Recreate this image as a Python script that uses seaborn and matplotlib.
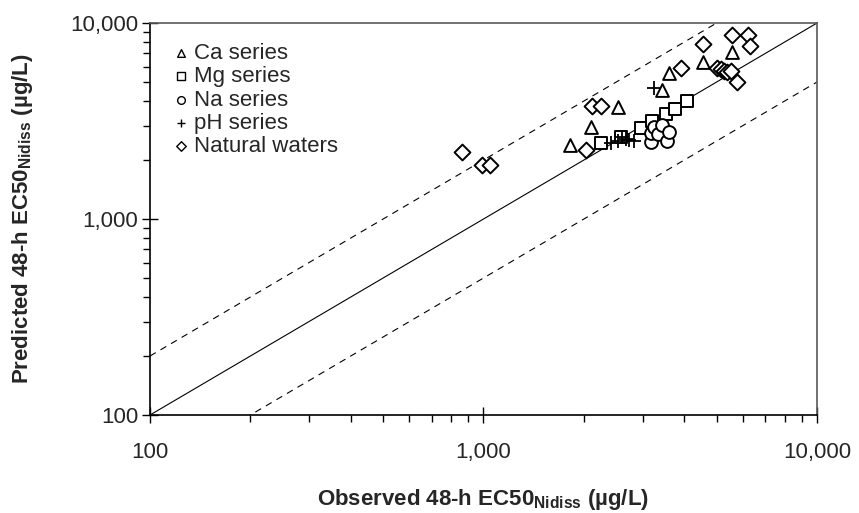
import numpy as np
import pandas as pd
import matplotlib
matplotlib.use('Agg')
import matplotlib.pyplot as plt
import seaborn as sns
from matplotlib.ticker import FuncFormatter, LogLocator, NullFormatter

# Observed vs predicted EC50 values (ug/L)
ca_obs = [1820, 2100, 2530, 3440, 3590, 4540, 5560]
ca_pred = [2390, 2950, 3730, 4550, 5550, 6350, 7140]

mg_obs = [2250, 2580, 2960, 3210, 3520, 3760, 4090]
mg_pred = [2430, 2630, 2900, 3160, 3430, 3640, 4020]

na_obs = [3170, 3180, 3250, 3330, 3420, 3540, 3590]
na_pred = [2470, 2750, 2950, 2720, 3020, 2490, 2790]

ph_obs = [2410, 2540, 2610, 2670, 2730, 2820, 3240]
ph_pred = [2440, 2510, 2620, 2570, 2540, 2510, 4660]

nat_obs = [862, 993, 1046, 2030, 2120, 2250, 3900, 4540, 5030, 5150,
           5270, 5390, 5540, 5750, 5580, 6220, 6290]
nat_pred = [2200, 1890, 1890, 2240, 3770, 3770, 5870, 7820, 5870, 5830,
            5720, 5640, 5710, 5020, 8690, 8690, 7630]

series = [
    ('Ca series', ca_obs, ca_pred, '^'),
    ('Mg series', mg_obs, mg_pred, 's'),
    ('Na series', na_obs, na_pred, 'o'),
    ('pH series', ph_obs, ph_pred, '+'),
    ('Natural waters', nat_obs, nat_pred, 'D'),
]

line_x = np.array([100, 10000])
factors = [1, 2, 0.5]

sns.set_style('ticks')
plt.rcParams['font.family'] = ['Liberation Sans', 'DejaVu Sans']
plt.rcParams['mathtext.fontset'] = 'custom'
plt.rcParams['mathtext.rm'] = 'Liberation Sans'
plt.rcParams['mathtext.bf'] = 'Liberation Sans:bold'

fig, ax = plt.subplots(figsize=(8.59, 5.13), dpi=100)
fig.subplots_adjust(left=0.1746, right=0.951, bottom=0.191, top=0.955)

# 1:1 line and factor-of-two lines
ax.plot(line_x, line_x * factors[0], color='black', lw=0.8, zorder=1)
ax.plot(line_x, line_x * factors[1], color='black', lw=0.8, ls=(0, (6, 5)), zorder=1)
ax.plot(line_x, line_x * factors[2], color='black', lw=0.8, ls=(0, (6, 5)), zorder=1)

for name, xs, ys, mk in series:
    df = pd.DataFrame({'obs': xs, 'pred': ys})
    if mk == '+':
        sns.scatterplot(data=df, x='obs', y='pred', marker=mk, s=100, color='black',
                        linewidth=1.3, label=name, ax=ax, zorder=3)
    else:
        size = 65 if mk == 'D' else 85
        sns.scatterplot(data=df, x='obs', y='pred', marker=mk, s=size, facecolor='white',
                        edgecolor='black', linewidth=1.4, label=name, ax=ax, zorder=3)

ax.set_xscale('log')
ax.set_yscale('log')
ax.set_xlim(100, 10000)
ax.set_ylim(100, 10000)

fmt = FuncFormatter(lambda v, p: f'{v:,.0f}')
for axis in (ax.xaxis, ax.yaxis):
    axis.set_major_locator(LogLocator(base=10, numticks=5))
    axis.set_minor_locator(LogLocator(base=10, subs=np.arange(2, 10), numticks=10))
    axis.set_major_formatter(fmt)
    axis.set_minor_formatter(NullFormatter())

ax.tick_params(which='major', direction='inout', length=11, width=1, labelsize=16, color='black')
ax.tick_params(which='minor', direction='out', length=5, width=1, color='black')
ax.tick_params(axis='x', which='major', pad=14)
ax.tick_params(axis='y', which='major', pad=3)

for side in ('left', 'bottom'):
    ax.spines[side].set_color('black')
    ax.spines[side].set_linewidth(1.2)
for side in ('top', 'right'):
    ax.spines[side].set_color('0.35')
    ax.spines[side].set_linewidth(1.2)

ax.set_xlabel(r'Observed 48-h EC50$_{\mathbf{Nidiss}}$ (µg/L)', fontsize=16,
              fontweight='bold', labelpad=17)
ax.set_ylabel(r'Predicted 48-h EC50$_{\mathbf{Nidiss}}$ (µg/L)', fontsize=16,
              fontweight='bold', labelpad=25)

leg = ax.legend(loc='upper left', frameon=False, fontsize=16, markerscale=0.6,
                handletextpad=0.1, handlelength=1.0, labelspacing=0.1,
                borderaxespad=0.5)
for h in leg.legend_handles:
    h.set_linewidth(1.0)

fig.savefig('out.png', dpi=100)
